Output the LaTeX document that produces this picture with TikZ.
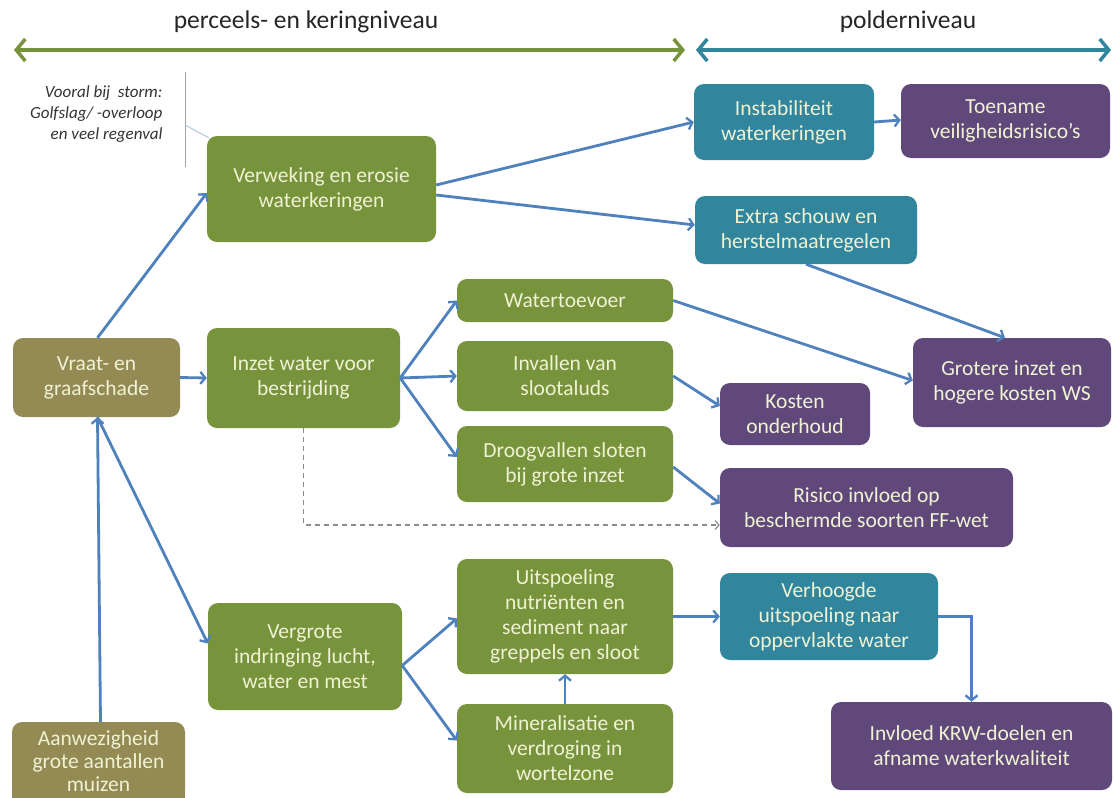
\documentclass[tikz,border=0pt]{standalone}
\usepackage{fontspec}
\setmainfont{Carlito}
\usetikzlibrary{arrows.meta,calc}
\definecolor{cgreen}{RGB}{119,147,60}
\definecolor{cbrown}{RGB}{148,138,84}
\definecolor{cblue}{RGB}{49,133,156}
\definecolor{cpurple}{RGB}{96,73,122}
\definecolor{carrow}{RGB}{79,129,189}
\definecolor{ctext}{RGB}{240,242,212}
\definecolor{cgray}{RGB}{140,140,140}
\pgfdeclarelayer{bg}
\pgfsetlayers{bg,main}
\tikzset{
  box/.style={rounded corners=10pt, text=ctext, align=center, inner sep=2pt,
    font=\fontsize{21.5}{25}\selectfont},
  gbox/.style={box, fill=cgreen},
  bbox/.style={box, fill=cbrown},
  cbox/.style={box, fill=cblue},
  pbox/.style={box, fill=cpurple},
  conn/.style={draw=carrow, line width=2.8pt,
    -{Straight Barb[length=5pt,width=12pt,line width=2.3pt]}},
  hdr/.style={line width=4.5pt,
    {Straight Barb[length=9pt,width=22pt,line width=3.5pt]}-{Straight Barb[length=9pt,width=22pt,line width=3.5pt]}},
  hdrtext/.style={font=\fontsize{25.5}{28}\selectfont, text=black!85},
  note/.style={font=\fontsize{17}{21}\itshape\selectfont, align=right, text=black!80},
}
\begin{document}
\begin{tikzpicture}[x=1pt,y=-1pt]
\useasboundingbox (0,0) rectangle (1114,798);

% header arrows
\coordinate (gl) at (14,50);
\coordinate (gr) at (685,50);
\coordinate (bl) at (696,50);
\coordinate (br) at (1111,50);
\draw[hdr, draw=cgreen] (gl) -- (gr);
\draw[hdr, draw=cblue] (bl) -- (br);
\node[hdrtext] (tg) at (306,22) {perceels- en keringniveau};
\node[hdrtext] (tb) at (908,22) {polderniveau};

% note
\node[note, anchor=east] (nt) at (166,114) {Vooral bij\ \ storm:\\Golfslag/ -overloop\\en veel regenval};
\coordinate (vt) at (185,72);
\coordinate (vb) at (185,167);
\coordinate (vm) at (185,125);
\draw[cgray!80, line width=1pt] (vt) -- (vb);

% boxes
\node[gbox, minimum width=229pt, minimum height=106pt] (verw) at (321.5,189) {Verweking en erosie\\waterkeringen};
\draw[carrow!45, line width=1pt] (vm) -- ([shift={(2pt,-2pt)}]verw.north west);
\node[bbox, minimum width=167pt, minimum height=79pt] (vraat) at (96.5,377.5) {Vraat- en\\graafschade};
\node[gbox, minimum width=193pt, minimum height=100pt] (inzet) at (303.5,378) {Inzet water voor\\bestrijding};
\node[gbox, minimum width=216pt, minimum height=43pt] (water) at (565,300.5) {Watertoevoer};
\node[gbox, minimum width=216pt, minimum height=70pt] (inval) at (565,376) {Invallen van\\slootaluds};
\node[gbox, minimum width=216pt, minimum height=76pt] (droog) at (565,464) {Droogvallen sloten\\bij grote inzet};
\node[pbox, minimum width=150pt, minimum height=62pt] (kosten) at (795,414) {Kosten\\onderhoud};
\node[pbox, minimum width=198pt, minimum height=89pt] (grot) at (1012,382.5) {Grotere inzet en\\hogere kosten WS};
\node[pbox, minimum width=293pt, minimum height=79pt] (risico) at (866.5,507.5) {Risico invloed op\\beschermde soorten FF-wet};
\node[cbox, minimum width=180pt, minimum height=76pt] (instab) at (784,122) {Instabiliteit\\waterkeringen};
\node[pbox, minimum width=209pt, minimum height=74pt] (toename) at (1005.5,121) {Toename\\veiligheidsrisico's};
\node[cbox, minimum width=222pt, minimum height=68pt] (extra) at (806,230) {Extra schouw en\\herstelmaatregelen};
\node[gbox, minimum width=216pt, minimum height=115pt] (uits) at (565,616.5) {Uitspoeling\\nutriënten en\\sediment naar\\greppels en sloot};
\node[gbox, minimum width=216pt, minimum height=89pt] (miner) at (565,748.5) {Mineralisatie en\\verdroging in\\wortelzone};
\node[gbox, minimum width=194pt, minimum height=107pt] (vergr) at (305,656.5) {Vergrote\\indringing lucht,\\water en mest};
\node[cbox, minimum width=218pt, minimum height=87pt] (verh) at (829,616.5) {Verhoogde\\uitspoeling naar\\oppervlakte water};
\node[pbox, minimum width=281pt, minimum height=88pt] (invl) at (971.5,746) {Invloed KRW-doelen en\\afname waterkwaliteit};
\node[bbox, minimum width=173pt, minimum height=78pt, font=\fontsize{21.5}{23}\selectfont] (aanw) at (98.5,761) {Aanwezigheid\\grote aantallen\\muizen};
\begin{pgfonlayer}{bg}
  \fill[white] (0,0) rectangle (1114,798);
  \fill[cbrown] ([yshift=14pt]aanw.south west) rectangle ([yshift=-14pt]aanw.south east);
\end{pgfonlayer}

% connectors
\draw[conn] ([xshift=1pt]vraat.north) -- ([yshift=-4pt]verw.west);
\draw[conn] ([xshift=2pt]aanw.north) -- ([xshift=1pt]vraat.south);
\draw[conn] ([xshift=1pt]vraat.south) -- ([yshift=13pt]vergr.west);
\draw[conn] (vraat.east) -- (inzet.west);
\draw[conn] (inzet.east) -- (water.west);
\draw[conn] (inzet.east) -- (inval.west);
\draw[conn] (inzet.east) -- ([yshift=7pt]droog.west);
\draw[conn] ([yshift=4pt]verw.east) -- (instab.west);
\draw[conn] ([yshift=-6pt]verw.east) -- ([yshift=5pt]extra.west);
\draw[conn] (instab.east) -- ([yshift=1pt]toename.west);
\draw[conn] (extra.south) -- ([xshift=-7pt]grot.north);
\draw[conn] (water.east) -- ([yshift=2pt]grot.west);
\draw[conn] (inval.east) -- ([yshift=8pt]kosten.west);
\draw[conn] ([yshift=-3pt]droog.east) -- ([yshift=4pt]risico.west);
\coordinate (dk) at (303.5,525);
\draw[cgray, line width=1.5pt, dash pattern=on 5pt off 4pt, -{Straight Barb[length=4pt,width=9pt,line width=1.2pt]}]
  (inzet.south) -- (dk) -- (risico.west |- dk);
\draw[conn] ([yshift=-9pt]vergr.east) -- ([yshift=-2pt]uits.west);
\draw[conn] ([yshift=-9pt]vergr.east) -- ([yshift=8pt]miner.west);
\draw[conn] (miner.north) -- (uits.south);
\draw[conn] (uits.east) -- (verh.west);
\draw[conn] (verh.east) -| (invl.north);
\end{tikzpicture}
\end{document}
